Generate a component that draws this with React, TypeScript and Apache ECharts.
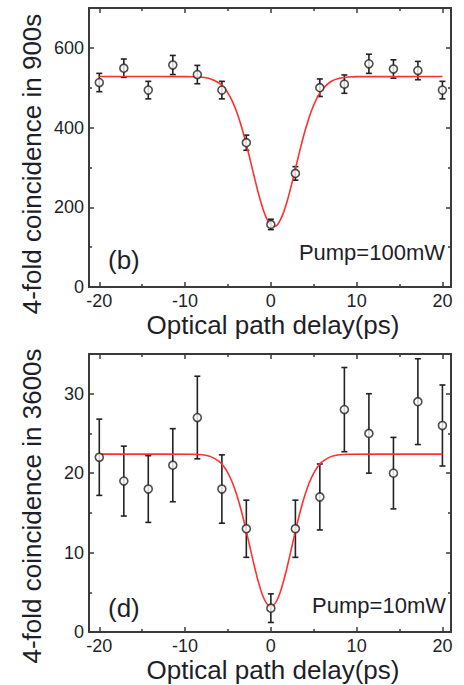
import React, { useEffect, useRef } from 'react';
import * as echarts from 'echarts';

// ---------- data ----------
const delays = [-20, -17.14, -14.29, -11.43, -8.57, -5.71, -2.86, 0, 2.86, 5.71, 8.57, 11.43, 14.29, 17.14, 20];
const counts900 = [513, 549, 494, 557, 533, 494, 362, 157, 285, 500, 509, 560, 547, 543, 494];
const err900 = [23, 23, 22, 24, 23, 22, 19, 13, 17, 22, 23, 24, 23, 23, 22];
const counts3600 = [22, 19, 18, 21, 27, 18, 13, 3, 13, 17, 28, 25, 20, 29, 26];
const err3600 = [4.8, 4.4, 4.2, 4.6, 5.2, 4.3, 3.6, 1.8, 3.6, 4.15, 5.3, 5.0, 4.5, 5.4, 5.1];

const fitX900 = [-20, -10, -9, -8, -7, -6, -5.5, -5, -4.5, -4, -3.5, -3, -2.5, -2, -1.5, -1, -0.5, 0, 0.5, 1, 1.5, 2, 2.5, 3, 3.5, 4, 4.5, 5, 5.5, 6, 7, 8, 9, 10, 20];
const fitY900 = [528, 527.9, 527.5, 526.2, 522.1, 511.1, 501.0, 486.4, 466.4, 440.3, 407.8, 369.4, 326.7, 282.1, 239.0, 201.2, 172.3, 155.5, 152.6, 164.0, 188.4, 223.0, 264.5, 308.9, 352.7, 393.1, 428.0, 456.7, 479.1, 495.7, 515.5, 523.8, 526.8, 527.7, 528];

const fitX3600 = [-20, -9, -8, -7, -6, -5.5, -5, -4.5, -4, -3.5, -3, -2.5, -2, -1.5, -1, -0.5, 0, 0.5, 1, 1.5, 2, 2.5, 3, 3.5, 4, 4.5, 5, 5.5, 6, 7, 8, 9, 20];
const fitY3600 = [22.4, 22.38, 22.31, 22.08, 21.44, 20.86, 20.01, 18.85, 17.34, 15.48, 13.34, 10.99, 8.64, 6.48, 4.73, 3.6, 3.2, 3.6, 4.73, 6.48, 8.64, 10.99, 13.34, 15.48, 17.34, 18.85, 20.01, 20.86, 21.44, 22.08, 22.31, 22.38, 22.4];

const xMajor = [-20, -10, 0, 10, 20];
const xMinor = [-15, -5, 5, 15];
const yMajor900 = [0, 200, 400, 600];
const yMinor900 = [100, 300, 500];
const yMajor3600 = [0, 10, 20, 30];
const yMinor3600 = [5, 15, 25];

const xTitle = 'Optical path delay(ps)';
const yTitle900 = '4-fold coincidence in 900s';
const yTitle3600 = '4-fold coincidence in 3600s';

// ---------- styling ----------
const FONT = '"Liberation Sans", Arial, Helvetica, sans-serif';
const AXIS = '#3a3a3a';
const TEXT = '#1e1e28';
const RED = '#ff3030';

function axis(gridIndex: number, position: string, min: number, max: number, ticks: number[], len: number, labels: boolean, line: boolean) {
  return {
    type: 'value',
    gridIndex,
    position,
    min,
    max,
    axisLine: { show: line, onZero: false, lineStyle: { color: AXIS, width: 2 } },
    axisTick: { show: true, inside: true, length: len, customValues: ticks, lineStyle: { color: AXIS, width: 1.5 } },
    axisLabel: { show: labels, customValues: ticks, fontSize: 18, color: TEXT, fontFamily: FONT, margin: 5 },
    splitLine: { show: false },
  };
}

function panelAxes(g: number, yMin: number, yMax: number, yMaj: number[], yMin2: number[]) {
  const xs = [
    axis(g, 'bottom', -21.2, 21, xMajor, 5, true, true),
    axis(g, 'bottom', -21.2, 21, xMinor, 3, false, false),
    axis(g, 'top', -21.2, 21, xMajor, 5, false, true),
    axis(g, 'top', -21.2, 21, xMinor, 3, false, false),
  ];
  const ys = [
    axis(g, 'left', yMin, yMax, yMaj, 5, true, true),
    axis(g, 'left', yMin, yMax, yMin2, 3, false, false),
    axis(g, 'right', yMin, yMax, yMaj, 5, false, true),
    axis(g, 'right', yMin, yMax, yMin2, 3, false, false),
  ];
  return { xs, ys };
}

function errorBars(ai: number, xs: number[], ys: number[], es: number[]) {
  return {
    type: 'custom',
    xAxisIndex: ai,
    yAxisIndex: ai,
    z: 3,
    data: xs.map((x, i) => [x, ys[i], es[i]]),
    encode: { x: 0, y: 1 },
    renderItem: (_p: any, api: any) => {
      const x = api.value(0);
      const y = api.value(1);
      const e = api.value(2);
      const t = api.coord([x, y + e]);
      const b = api.coord([x, y - e]);
      const hw = 3;
      const st = { stroke: '#222', lineWidth: 1.6 };
      return {
        type: 'group',
        children: [
          { type: 'line', shape: { x1: t[0], y1: t[1], x2: b[0], y2: b[1] }, style: st },
          { type: 'line', shape: { x1: t[0] - hw, y1: t[1], x2: t[0] + hw, y2: t[1] }, style: st },
          { type: 'line', shape: { x1: b[0] - hw, y1: b[1], x2: b[0] + hw, y2: b[1] }, style: st },
        ],
      };
    },
  };
}

function fitLine(ai: number, xs: number[], ys: number[]) {
  return {
    type: 'line',
    xAxisIndex: ai,
    yAxisIndex: ai,
    z: 4,
    smooth: 0.4,
    symbol: 'none',
    showSymbol: false,
    data: xs.map((x, i) => [x, ys[i]]),
    lineStyle: { color: RED, width: 1.6 },
  };
}

function points(ai: number, xs: number[], ys: number[]) {
  return {
    type: 'scatter',
    xAxisIndex: ai,
    yAxisIndex: ai,
    z: 5,
    symbol: 'circle',
    symbolSize: 8,
    data: xs.map((x, i) => [x, ys[i]]),
    itemStyle: { color: '#fff', borderColor: '#222', borderWidth: 1.6 },
  };
}

function txt(x: number, y: number, text: string, size: number, align: string, rotation = 0) {
  return {
    type: 'text',
    x,
    y,
    rotation,
    style: { text, fontSize: size, fontFamily: FONT, fill: TEXT, align, verticalAlign: 'middle' },
  };
}

export default function App() {
  const ref = useRef<HTMLDivElement>(null);
  useEffect(() => {
    const chart = echarts.init(ref.current!, null, { renderer: 'svg' });
    const p0 = panelAxes(0, 0, 700, yMajor900, yMinor900);
    const p1 = panelAxes(1, 0, 35, yMajor3600, yMinor3600);
    chart.setOption({
      animation: false,
      backgroundColor: '#fff',
      grid: [
        { left: 89, top: 8, width: 362, height: 279 },
        { left: 89, top: 354, width: 362, height: 278 },
      ],
      xAxis: [...p0.xs, ...p1.xs],
      yAxis: [...p0.ys, ...p1.ys],
      series: [
        errorBars(0, delays, counts900, err900),
        fitLine(0, fitX900, fitY900),
        points(0, delays, counts900),
        errorBars(4, delays, counts3600, err3600),
        fitLine(4, fitX3600, fitY3600),
        points(4, delays, counts3600),
      ],
      graphic: [
        txt(273, 325, xTitle, 26, 'center'),
        txt(273, 670, xTitle, 26, 'center'),
        txt(32, 164, yTitle900, 26, 'center', Math.PI / 2),
        txt(32, 506, yTitle3600, 26, 'center', Math.PI / 2),
        txt(108, 260, '(b)', 26, 'left'),
        txt(445, 252, 'Pump=100mW', 22, 'right'),
        txt(108, 608, '(d)', 26, 'left'),
        txt(446, 605, 'Pump=10mW', 22, 'right'),
      ],
    });
    return () => chart.dispose();
  }, []);
  return <div ref={ref} style={{ position: 'fixed', left: 0, top: 0, width: 464, height: 685, background: '#fff' }} />;
}
